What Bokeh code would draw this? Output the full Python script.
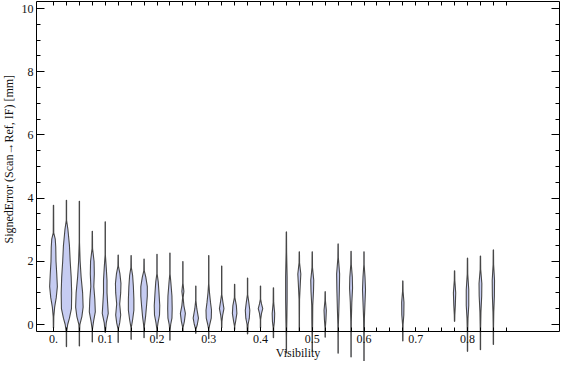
import math
from bokeh.plotting import figure
from bokeh.models import (Range1d, LinearAxis, FixedTicker, SingleIntervalTicker,
                          CustomJSTickFormatter, Label)
from bokeh.embed import file_html
from bokeh.resources import INLINE

# ---------------- data ----------------
positions = [0.0, 0.025, 0.05, 0.075, 0.1, 0.125, 0.15, 0.175, 0.2, 0.225,
             0.25, 0.275, 0.3, 0.325, 0.35, 0.375, 0.4, 0.425, 0.45, 0.475,
             0.5, 0.525, 0.55, 0.575, 0.6, 0.675, 0.775, 0.8, 0.825, 0.85]

# outline knots of every violin: levels (mm) and visible width (px-like density)
violin_levels = [
    [3.77, 2.9, 2.7, 2.45, 2.0, 1.6, 1.2, 0.85, 0.55, 0.25, -0.1],
    [3.93, 3.3, 3.0, 2.5, 2.0, 1.5, 1.0, 0.5, 0.2, 0.0, -0.25, -0.7],
    [3.9, 2.6, 2.0, 1.5, 1.0, 0.55, 0.25, 0.0, -0.3, -0.68],
    [2.95, 2.4, 2.0, 1.6, 1.2, 0.8, 0.4, 0.1, -0.15, -0.55],
    [3.25, 2.2, 1.8, 1.4, 1.0, 0.6, 0.35, 0.05, -0.25],
    [2.2, 1.85, 1.6, 1.3, 1.0, 0.65, 0.3, 0.05, -0.15, -0.57],
    [2.18, 1.8, 1.55, 1.2, 0.8, 0.45, 0.15, -0.1, -0.47],
    [2.07, 1.7, 1.5, 1.2, 0.9, 0.6, 0.25, 0.0, -0.15, -0.42],
    [2.22, 1.6, 1.35, 1.0, 0.6, 0.3, 0.05, -0.15, -0.45],
    [2.26, 1.6, 1.3, 0.9, 0.5, 0.2, 0.0, -0.2, -0.5],
    [1.99, 1.3, 1.05, 0.85, 0.6, 0.35, 0.1, -0.1, -0.21],
    [1.22, 0.75, 0.5, 0.2, 0.0, -0.15, -0.28],
    [2.18, 1.3, 1.0, 0.7, 0.45, 0.2, 0.0, -0.15, -0.45],
    [1.85, 0.95, 0.7, 0.5, 0.3, 0.1, -0.1],
    [1.27, 0.85, 0.6, 0.35, 0.1, -0.05, -0.16],
    [1.47, 0.95, 0.7, 0.45, 0.2, 0.0, -0.3],
    [1.22, 0.8, 0.65, 0.5, 0.35, 0.15, -0.1],
    [1.16, 0.7, 0.35, 0.1, -0.1, -0.42],
    [2.93, 2.3, 1.5, 0.8, 0.2, -0.4, -0.9],
    [2.3, 1.95, 1.6, 1.3, 0.8, 0.2, -0.2],
    [2.3, 1.8, 1.4, 1.05, 0.6, 0.1, -0.4, -0.84],
    [1.04, 0.75, 0.45, 0.15, -0.1, -0.4],
    [2.55, 2.1, 1.6, 1.1, 0.5, 0.0, -0.5, -0.91],
    [2.32, 1.9, 1.5, 1.15, 0.7, 0.1, -0.5, -1.03],
    [2.3, 1.9, 1.5, 1.1, 0.7, 0.2, -0.5, -1.2],
    [1.38, 1.05, 0.7, 0.3, 0.0, -0.52],
    [1.7, 1.4, 1.0, 0.6, 0.3, 0.1],
    [2.1, 1.6, 1.1, 0.6, 0.2, -0.3, -0.85],
    [2.17, 1.75, 1.3, 0.9, 0.4, -0.2, -0.8],
    [2.36, 1.9, 1.4, 0.9, 0.4, -0.1, -0.63],
]
violin_widths = [
    [0.8, 1.5, 4.5, 5.5, 6.0, 7.5, 8.7, 6.5, 3.3, 1.6, 0.8],
    [0.8, 1.2, 4.0, 7.0, 8.5, 10.5, 11.5, 11.0, 7.0, 3.5, 1.2, 0.8],
    [0.8, 1.2, 2.5, 4.5, 7.5, 8.5, 6.0, 2.0, 1.0, 0.8],
    [0.8, 1.5, 4.5, 5.0, 4.0, 6.0, 7.0, 3.5, 1.0, 0.8],
    [0.8, 1.2, 3.0, 4.5, 4.5, 6.0, 7.0, 3.0, 0.8],
    [0.8, 1.5, 4.5, 6.5, 6.0, 4.0, 6.0, 4.0, 1.2, 0.8],
    [0.8, 1.5, 4.0, 5.5, 6.5, 6.5, 4.0, 1.2, 0.8],
    [0.8, 1.5, 4.5, 7.5, 7.5, 6.0, 4.0, 2.0, 1.0, 0.8],
    [0.8, 1.2, 3.5, 5.0, 6.5, 6.0, 3.0, 1.0, 0.8],
    [0.8, 1.2, 3.0, 5.0, 5.5, 5.0, 2.5, 1.0, 0.8],
    [0.8, 1.0, 3.0, 1.5, 3.0, 6.0, 4.0, 1.2, 0.8],
    [0.8, 1.2, 3.0, 6.3, 4.0, 1.2, 0.8],
    [0.8, 1.2, 2.5, 4.5, 6.5, 6.0, 3.0, 1.0, 0.8],
    [0.8, 1.2, 3.5, 5.5, 3.0, 1.5, 0.8],
    [0.8, 1.5, 4.5, 5.5, 3.0, 1.2, 0.8],
    [0.8, 1.2, 3.5, 5.5, 4.5, 2.0, 0.8],
    [0.8, 1.2, 3.0, 5.5, 3.0, 1.2, 0.8],
    [0.8, 1.5, 3.5, 3.0, 1.5, 0.8],
    [0.8, 1.5, 2.5, 2.5, 2.0, 1.2, 0.8],
    [0.8, 1.5, 4.0, 3.0, 1.5, 1.2, 0.8],
    [0.8, 1.5, 4.0, 3.5, 2.0, 1.8, 1.0, 0.8],
    [0.8, 1.5, 3.3, 2.5, 1.2, 0.8],
    [0.8, 1.5, 4.0, 3.5, 2.5, 1.5, 1.0, 0.8],
    [0.8, 1.5, 3.5, 4.0, 2.5, 1.5, 1.0, 0.8],
    [0.8, 1.2, 3.0, 4.0, 3.0, 1.8, 1.0, 0.8],
    [0.8, 1.5, 3.3, 3.0, 1.5, 0.8],
    [0.8, 1.5, 3.3, 2.5, 1.5, 0.8],
    [0.8, 1.5, 3.5, 3.5, 2.0, 1.2, 0.8],
    [0.8, 1.5, 3.8, 3.5, 2.0, 1.2, 0.8],
    [0.8, 1.5, 3.3, 3.0, 1.8, 1.2, 0.8],
]

x_label_ticks = [0.0, 0.1, 0.2, 0.3, 0.4, 0.5, 0.6, 0.7, 0.8]
x_minor_ticks = [i * 0.025 for i in range(36)]
y_label = "SignedError (Scan\u2192Ref, IF) [mm]"
x_label = "Visibility"

# ---------------- layout (frame = whole canvas, axes drawn inside) ----------------
W, H = 560, 361
px_x = 517.5          # pixels per x unit
px_y = 31.6           # pixels per y unit
x0_px = 53.0          # canvas x of Visibility 0
y0_px = 324.0         # canvas y of error 0
x_start = -x0_px / px_x
x_end = (W - x0_px) / px_x
y_end = y0_px / px_y
y_start = -(H - y0_px) / px_y

x_left = (36.0 - x0_px) / px_x       # left frame line
x_right = (558.5 - x0_px) / px_x     # right frame line
y_top = 10 + 7.0 / px_y              # top frame line
y_bottom = -0.23                     # bottom frame line

FONT = "Liberation Serif"

p = figure(width=W, height=H, x_range=Range1d(x_start, x_end),
           y_range=Range1d(y_start, y_end), x_axis_location=None,
           y_axis_location=None, toolbar_location=None, output_backend="svg",
           min_border_left=0, min_border_right=0,
           min_border_top=0, min_border_bottom=0)
p.outline_line_color = None
p.grid.visible = False
p.background_fill_color = "white"

# violins
xs, ys = [], []
for xc, lev, wid in zip(positions, violin_levels, violin_widths):
    pts = sorted(zip(lev, wid))
    half = [max(w - 1.0, 0.3) / 2.0 / px_x for _, w in pts]
    yy = [l for l, _ in pts]
    xs.append([xc - h for h in half] + [xc + h for h in reversed(half)])
    ys.append(yy + list(reversed(yy)))
p.patches(xs, ys, fill_color="#c6ccf2", line_color="#474747", line_width=1.1)

def style(ax):
    ax.axis_line_color = "black"
    ax.axis_line_width = 1
    ax.major_tick_line_color = "black"
    ax.minor_tick_line_color = "black"
    ax.major_label_text_font = FONT
    ax.major_label_text_font_size = "12px"
    ax.major_label_text_color = "#111111"
    ax.axis_label_text_font = FONT
    ax.axis_label_text_font_size = "12px"
    ax.axis_label_text_font_style = "normal"
    ax.axis_label_text_color = "#111111"

# bottom
bottom = LinearAxis(fixed_location=y_bottom,
                    ticker=FixedTicker(ticks=x_label_ticks, minor_ticks=x_minor_ticks),
                    formatter=CustomJSTickFormatter(code="return tick == 0 ? '0.' : tick.toFixed(1);"),
                    bounds=(x_left, x_right), axis_label=x_label)
style(bottom)
bottom.major_tick_in = 4
bottom.major_tick_out = 0
bottom.minor_tick_in = 4
bottom.minor_tick_out = 0
bottom.major_label_standoff = 3
bottom.axis_label_standoff = 0
p.add_layout(bottom, "below")

# top
top = LinearAxis(fixed_location=y_top,
                 ticker=FixedTicker(ticks=x_minor_ticks),
                 bounds=(x_left, x_right))
style(top)
top.major_tick_in = 4
top.major_tick_out = 0
top.major_label_text_alpha = 0
p.add_layout(top, "above")

# left
left = LinearAxis(fixed_location=x_left,
                  ticker=SingleIntervalTicker(interval=2, num_minor_ticks=4),
                  bounds=(y_bottom, y_top))
style(left)
left.major_tick_in = 8
left.major_tick_out = 0
left.minor_tick_in = 4
left.minor_tick_out = 0
left.major_label_standoff = 3
p.add_layout(left, "left")

# right
right = LinearAxis(fixed_location=x_right,
                   ticker=SingleIntervalTicker(interval=2, num_minor_ticks=4),
                   bounds=(y_bottom, y_top))
style(right)
right.major_tick_in = 8
right.major_tick_out = 0
right.minor_tick_in = 4
right.minor_tick_out = 0
right.major_label_text_alpha = 0
p.add_layout(right, "right")

p.add_layout(Label(x=(8.0 - x0_px) / px_x, y=5.23, text=y_label,
                   angle=math.pi / 2, text_align="center", text_baseline="middle",
                   text_font=FONT, text_font_size="12px", text_color="#111111"))

open("out.html", "w").write(file_html(p, INLINE))
